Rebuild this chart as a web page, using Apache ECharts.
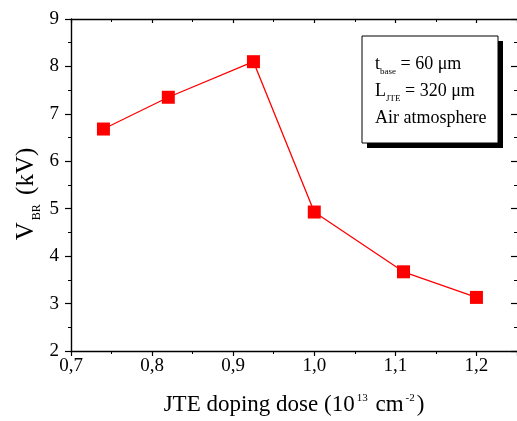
<!DOCTYPE html>
<html>
<head>
<meta charset="utf-8">
<script src="https://cdn.jsdelivr.net/npm/echarts@6/dist/echarts.min.js"></script>
<style>html,body{margin:0;padding:0;background:#fff;}#c{width:517px;height:421px;}</style>
</head>
<body>
<div id="c"></div>
<script>
const doseX = [0.74, 0.82, 0.925, 1.0, 1.11, 1.2];
const vbr = [6.68, 7.35, 8.1, 4.93, 3.67, 3.13];
const xTickValues = [0.7, 0.8, 0.9, 1.0, 1.1, 1.2];
const xTickLabels = ['0,7', '0,8', '0,9', '1,0', '1,1', '1,2'];
const yTickLabels = ['2', '3', '4', '5', '6', '7', '8', '9'];
const insetLines = [
  ['t', 'base', ' = 60 μm'],
  ['L', 'JTE', ' = 320 μm'],
  ['Air atmosphere', '', '']
];

const FONT = '"Liberation Serif", "Times New Roman", serif';
const axisLineStyle = { color: '#000', width: 1.4 };

function xFmt(v) {
  for (let i = 0; i < xTickValues.length; i++) {
    if (Math.abs(v - xTickValues[i]) < 1e-6) return xTickLabels[i];
  }
  return '';
}
function yFmt(v) {
  const i = Math.round(v) - 2;
  return (Math.abs(v - Math.round(v)) < 1e-6 && yTickLabels[i] !== undefined) ? yTickLabels[i] : '';
}

const chart = echarts.init(document.getElementById('c'), null, { renderer: 'canvas' });

const insetGraphics = [
  { type: 'rect', shape: { x: 367, y: 41, width: 136, height: 107 }, style: { fill: '#000' }, z: 10 },
  { type: 'rect', shape: { x: 362, y: 36, width: 136, height: 107 }, style: { fill: '#fff', stroke: '#000', lineWidth: 1 }, z: 11 }
];
insetLines.forEach((ln, i) => {
  insetGraphics.push({
    type: 'text', x: 375, y: 52 + i * 27, z: 12,
    style: {
      text: '{m|' + ln[0] + '}' + (ln[1] ? '{s|' + ln[1] + '}' : '') + (ln[2] ? '{m|' + ln[2] + '}' : ''),
      rich: {
        m: { fontFamily: FONT, fontSize: 18, lineHeight: 21, verticalAlign: 'bottom', fill: '#000' },
        s: { fontFamily: FONT, fontSize: 9, lineHeight: 9, verticalAlign: 'bottom', fill: '#000', padding: [0, 0, -3, 0] }
      }
    }
  });
});

chart.setOption({
  backgroundColor: '#fff',
  animation: false,
  grid: { left: 71, right: -2, top: 19, bottom: 69, containLabel: false },
  xAxis: [
    {
      type: 'value', min: 0.7, max: 1.25, interval: 0.1, position: 'bottom',
      axisLine: { show: true, onZero: false, lineStyle: axisLineStyle },
      axisTick: { show: true, inside: false, length: 5, lineStyle: { color: '#000', width: 1.2 } },
      minorTick: { show: true, splitNumber: 2, length: 3, lineStyle: { color: '#000', width: 1 } },
      splitLine: { show: false },
      axisLabel: { formatter: xFmt, fontFamily: FONT, fontSize: 19, color: '#000', margin: 6, showMaxLabel: false },
      name: '{m|JTE doping dose (10}{p|13}{m| cm}{p|-2}{m|)}',
      nameLocation: 'middle', nameGap: 42,
      nameTextStyle: {
        rich: {
          m: { fontFamily: FONT, fontSize: 23, lineHeight: 25, verticalAlign: 'top', color: '#000' },
          p: { fontFamily: FONT, fontSize: 11, lineHeight: 11, verticalAlign: 'top', color: '#000', padding: [0, 2, 0, 2] }
        }
      }
    },
    {
      type: 'value', min: 0.7, max: 1.25, interval: 0.1, position: 'top',
      axisLine: { show: true, onZero: false, lineStyle: axisLineStyle },
      axisTick: { show: true, inside: true, length: 4, lineStyle: { color: '#000', width: 1.2 } },
      minorTick: { show: true, splitNumber: 2, length: 3, lineStyle: { color: '#000', width: 1 } },
      splitLine: { show: false },
      axisLabel: { show: false }
    }
  ],
  yAxis: [
    {
      type: 'value', min: 2, max: 9, interval: 1, position: 'left',
      axisLine: { show: true, onZero: false, lineStyle: axisLineStyle },
      axisTick: { show: true, inside: false, length: 6, lineStyle: { color: '#000', width: 1.2 } },
      minorTick: { show: true, splitNumber: 2, length: 3, lineStyle: { color: '#000', width: 1 } },
      splitLine: { show: false },
      axisLabel: { formatter: yFmt, fontFamily: FONT, fontSize: 19, color: '#000', margin: 12 },
      name: '{v|V}{s|BR}{v| (kV)}',
      nameLocation: 'middle', nameGap: 32, nameRotate: 90, nameMoveOverlap: false,
      nameTextStyle: {
        padding: [0, 18, 0, 0],
        rich: {
          v: { fontFamily: FONT, fontSize: 25, lineHeight: 26, verticalAlign: 'bottom', color: '#000' },
          s: { fontFamily: FONT, fontSize: 12, lineHeight: 12, verticalAlign: 'bottom', color: '#000', padding: [0, 3, -4, 2] }
        }
      }
    },
    {
      type: 'value', min: 2, max: 9, interval: 1, position: 'right',
      axisLine: { show: false },
      axisTick: { show: true, inside: true, length: 6, lineStyle: { color: '#000', width: 1.2 } },
      minorTick: { show: true, splitNumber: 2, length: 3, lineStyle: { color: '#000', width: 1 } },
      splitLine: { show: false },
      axisLabel: { show: false }
    }
  ],
  series: [{
    type: 'line',
    xAxisIndex: 0, yAxisIndex: 0,
    data: doseX.map((x, i) => [x, vbr[i]]),
    symbol: 'rect', symbolSize: 13,
    itemStyle: { color: '#ff0000' },
    lineStyle: { color: '#ff0000', width: 1.3 },
    z: 5
  }],
  graphic: insetGraphics
});
</script>
</body>
</html>
